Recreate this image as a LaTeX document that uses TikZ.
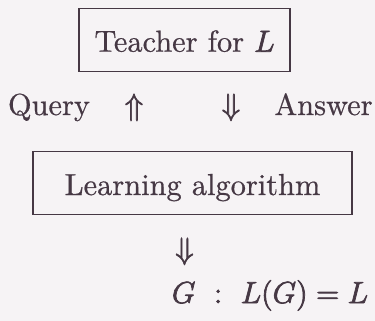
\RequirePackage{fix-cm}
\documentclass[tikz,border=0pt]{standalone}
\usepackage{fontspec}
\setmainfont{lmroman10-regular.otf}[ItalicFont=lmroman10-italic.otf, BoldFont=lmroman10-bold.otf, FakeBold=0.6]
\definecolor{ink}{RGB}{70,56,68}
\definecolor{paper}{RGB}{246,243,245}
\newcommand{\heavymath}[1]{\special{pdf:literal direct 2 Tr 0.35 w}$#1$\special{pdf:literal direct 0 Tr}}
\begin{document}
\begin{tikzpicture}[x=0.5pt,y=-0.5pt,
  every node/.style={font=\fontsize{15.2}{18}\selectfont, text=ink, inner sep=0pt},
  box/.style={draw=ink, line width=0.65pt, anchor=base, inner xsep=0pt, inner ysep=0pt,
              text height=21.6pt, text depth=9.8pt, align=center},
  lbl/.style={anchor=base}]
\fill[paper] (0,0) rectangle (375,321);
\useasboundingbox (0,0) rectangle (375,321);
\node[box, minimum width=105.5pt] (teacher) at (184.5,51.7) {Teacher for \heavymath{L}};
\node[lbl] (query) at (49,115) {Query};
\node[lbl] (up) at (134,115) {\heavymath{\Uparrow}};
\node[lbl] (down) at (231,115) {\heavymath{\Downarrow}};
\node[lbl] (answer) at (323.5,115) {Answer};
\node[box, minimum width=159.5pt] (learn) at (192.5,195) {Learning algorithm};
\node[lbl] (out) at (184.5,259) {\heavymath{\Downarrow}};
\node[lbl] (result) at (270,303) {\heavymath{G\ :\ L(G) = L}};
\end{tikzpicture}
\end{document}
